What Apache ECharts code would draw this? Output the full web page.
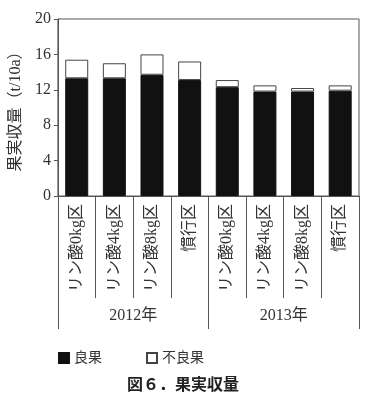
<!DOCTYPE html>
<html><head><meta charset="utf-8">
<script src="https://cdn.jsdelivr.net/npm/echarts@6/dist/echarts.min.js"></script>
<style>html,body{margin:0;padding:0;background:#fff}#c{width:379px;height:396px}</style>
</head><body><div id="c"></div>
<script>
const categories = ['リン酸0kg区','リン酸4kg区','リン酸8kg区','慣行区','リン酸0kg区','リン酸4kg区','リン酸8kg区','慣行区'];
const years = ['2012年','2013年'];
const goodFruit = [13.3, 13.3, 13.7, 13.1, 12.3, 11.8, 11.8, 11.9];
const poorFruit = [2.1, 1.7, 2.3, 2.1, 0.8, 0.7, 0.4, 0.6];
const yTicks = [0, 4, 8, 12, 16, 20];

const serif = "'Liberation Serif', 'Noto Sans CJK JP', serif";
const line = '#555';
const chart = echarts.init(document.getElementById('c'), null, {renderer:'canvas'});
chart.setOption({
  animation: false,
  backgroundColor: '#fff',
  title: {
    text: '図６．果実収量', left: 122, top: 371,
    textStyle: {fontFamily: "'Noto Sans CJK JP', sans-serif", fontSize: 16, fontWeight: 'bold', color: '#222'}
  },
  legend: {
    left: 53, top: 346, itemWidth: 10, itemHeight: 10, itemGap: 44, icon: 'rect',
    textStyle: {fontFamily: serif, fontSize: 14, color: '#333'},
    data: ['良果', '不良果']
  },
  grid: {left: 53, right: 20, top: 19, bottom: 200, show: true, borderColor: line, borderWidth: 1, backgroundColor: 'transparent'},
  xAxis: [{
    type: 'category', data: categories, position: 'bottom',
    axisLine: {show: true, lineStyle: {color: line}},
    axisTick: {show: true, length: 102, interval: 0, alignWithLabel: false, lineStyle: {color: line}},
    axisLabel: {rotate: 90, interval: 0, margin: 8, fontFamily: serif, fontSize: 16, color: '#333'}
  }, {
    type: 'category', data: years, position: 'bottom',
    axisLine: {show: false},
    axisTick: {show: true, length: 133, interval: 0, alignWithLabel: false, lineStyle: {color: line}},
    axisLabel: {margin: 112, fontFamily: serif, fontSize: 16, color: '#333'}
  }],
  yAxis: {
    type: 'value', min: yTicks[0], max: yTicks[yTicks.length-1], interval: 4,
    name: '果実収量（t/10a）', nameLocation: 'middle', nameGap: 31,
    nameTextStyle: {fontFamily: serif, fontSize: 16, color: '#333'},
    axisLine: {show: true, lineStyle: {color: line}},
    axisTick: {show: true, length: 4, lineStyle: {color: line}},
    splitLine: {show: false},
    axisLabel: {fontFamily: serif, fontSize: 16, color: '#333', margin: 7}
  },
  series: [{
    name: '良果', type: 'bar', stack: 't', data: goodFruit, barWidth: 23, xAxisIndex: 0,
    itemStyle: {color: '#111', borderColor: '#111', borderWidth: 1}
  }, {
    name: '不良果', type: 'bar', stack: 't', data: poorFruit, barWidth: 23, xAxisIndex: 0,
    itemStyle: {color: '#fff', borderColor: '#444', borderWidth: 1}
  }]
});
</script></body></html>
